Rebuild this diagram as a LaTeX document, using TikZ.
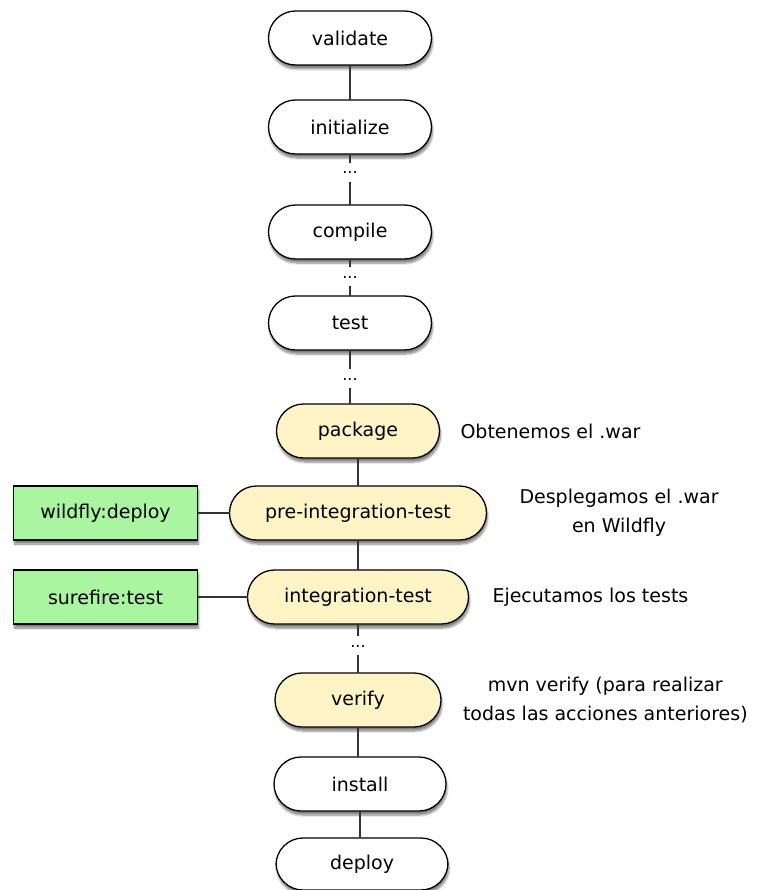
\documentclass[tikz,border=0pt]{standalone}
\usepackage{fontspec}
\setmainfont{DejaVu Sans}
\usepackage{tikz}
\usetikzlibrary{positioning, shadows, shadows.blur}
\definecolor{phaseYellow}{HTML}{FFF4C6}
\definecolor{goalGreen}{HTML}{A9F5A0}
\definecolor{lineGray}{HTML}{333333}

\begin{document}
\begin{tikzpicture}[
    x=1pt, y=1pt,
    font=\fontsize{19}{23}\selectfont,
    every node/.style={outer sep=0pt},
    phase/.style={draw, line width=1.3pt, rounded corners=27pt, fill=white,
                  minimum width=163pt, minimum height=54pt, inner sep=0pt,
                  blur shadow={shadow xshift=1pt, shadow yshift=-4pt,
                               shadow opacity=50, shadow blur steps=6}},
    bound/.style={phase, fill=phaseYellow},
    goal/.style={draw, line width=1.3pt, fill=goalGreen, minimum width=184pt,
                 minimum height=54pt, inner sep=0pt,
                 blur shadow={shadow xshift=1pt, shadow yshift=-4pt,
                              shadow opacity=50, shadow blur steps=6}},
    note/.style={align=center, inner sep=0pt,
                 font=\fontsize{19}{29}\selectfont},
    gap/.style={font=\fontsize{16}{16}\selectfont, inner xsep=2pt,
                inner ysep=8pt, text height=3pt, text depth=0pt},
    link/.style={draw=lineGray, line width=1.2pt},
]
\useasboundingbox (0,0) rectangle (759,-890);

% Lifecycle phases
\node[phase] (validate) at (350,-38) {validate};
\node[phase, below=35pt of validate] (initialize) {initialize};
\node[gap, below=9pt of initialize] (dots1) {...};
\node[phase, below=23pt of dots1] (compile) {compile};
\node[gap, below=8pt of compile] (dots2) {...};
\node[phase, below=10pt of dots2] (test) {test};
\node[gap, below=19pt of test] (dots3) {...};
\node[bound, below=16pt of dots3, xshift=8pt] (package) {package};
\node[bound, below=28pt of package, minimum width=257pt] (preint) {pre-integration-test};
\node[bound, below=30pt of preint, minimum width=221pt] (inttest) {integration-test};
\node[gap, below=12pt of inttest] (dots4) {...};
\node[bound, below=18pt of dots4, minimum width=166pt] (verify) {verify};
\node[phase, below=30pt of verify, minimum width=172pt, xshift=2pt] (install) {install};
\node[phase, below=27pt of install, minimum width=172pt, minimum height=52pt,
      xshift=2pt] (deploy) {deploy};

% Plugin goals
\node[goal, left=32pt of preint] (wildfly) {wildfly:deploy};
\node[goal, left=50pt of inttest] (surefire) {surefire:test};

% Notes
\node[note, right=21pt of package] (notePackage) {Obtenemos el .war};
\node[note, right=33pt of preint] (noteDeploy) {Desplegamos el .war\\en Wildfly};
\node[note, right=24pt of inttest] (noteTests) {Ejecutamos los tests};
\node[note, right=22pt of verify] (noteVerify)
    {mvn verify (para realizar\\todas las acciones anteriores)};

\draw[link] (validate) -- (initialize);
\draw[link] (initialize) -- (dots1);
\draw[link] (dots1) -- (compile);
\draw[link] (compile) -- (dots2);
\draw[link] (dots2) -- (test);
\draw[link] (test) -- (dots3);
\draw[link] (dots3) -- (package.north -| dots3);
\draw[link] (package) -- (preint);
\draw[link] (preint) -- (inttest);
\draw[link] (inttest) -- (dots4);
\draw[link] (dots4) -- (verify);
\draw[link] (verify) -- (install.north -| verify);
\draw[link] (install) -- (deploy.north -| install);
\draw[link] (wildfly) -- (preint);
\draw[link] (surefire) -- (inttest);
\end{tikzpicture}
\end{document}
